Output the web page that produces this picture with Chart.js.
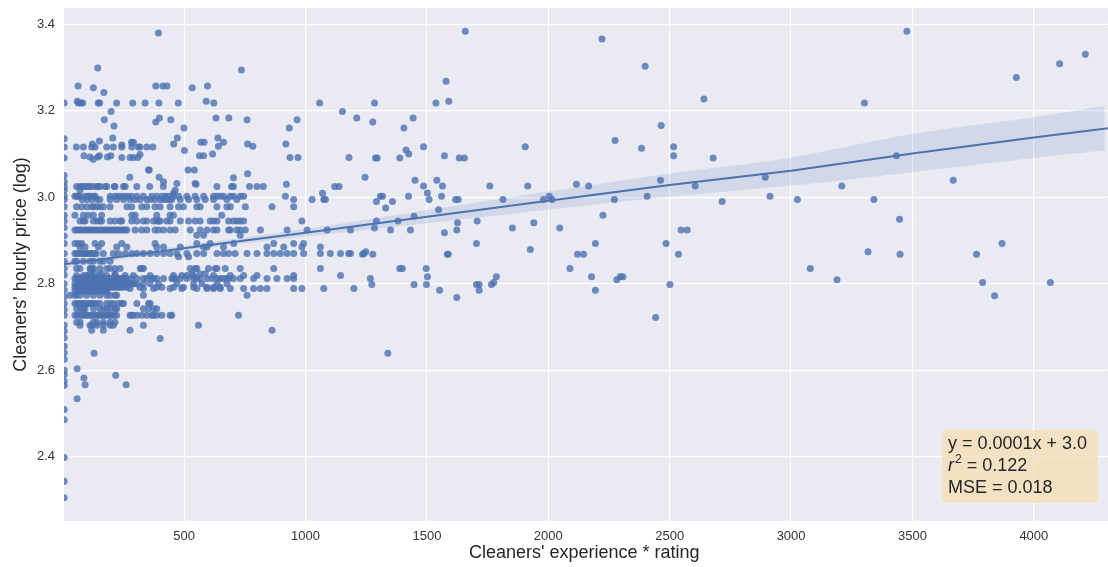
<!DOCTYPE html>
<html>
<head>
<meta charset="utf-8">
<script src="https://cdn.jsdelivr.net/npm/chart.js@4.4.1/dist/chart.umd.min.js"></script>
<style>
  html, body { margin: 0; padding: 0; background: #fff; overflow: hidden; }
  #wrap { width: 1108px; height: 567px; }
  canvas { display: block; }
</style>
</head>
<body>
<div id="wrap"><canvas id="regChart" width="1108" height="567"></canvas></div>
<script>
// Cleaners' experience * rating vs hourly price (log), seaborn-style regplot

// tick labels
var xTicks = [500, 1000, 1500, 2000, 2500, 3000, 3500, 4000];
var yTicks = [2.4, 2.6, 2.8, 3.0, 3.2, 3.4];

// fitted line and its confidence band
var fitX = [6, 500, 1000, 1500, 2000, 2500, 3000, 3500, 4000, 4312];
var fitY = [2.845, 2.882, 2.918, 2.955, 2.992, 3.028, 3.061, 3.101, 3.138, 3.160];
var bandUpper = [2.853, 2.888, 2.927, 2.970, 3.013, 3.055, 3.092, 3.146, 3.185, 3.213];
var bandLower = [2.837, 2.876, 2.909, 2.940, 2.971, 3.001, 3.027, 3.058, 3.091, 3.110];

// points sitting on the left edge (lowest experience value)
var edgeX = 6;
var edgeY = [3.218, 3.135, 3.116, 3.091, 3.050, 3.036, 3.025, 3.016, 3.002, 2.995, 2.978, 2.958,
  2.945, 2.930, 2.910, 2.893, 2.870, 2.852, 2.835, 2.820, 2.800, 2.785, 2.770, 2.754, 2.740,
  2.727, 2.704, 2.690, 2.675, 2.655, 2.640, 2.625, 2.600, 2.590, 2.575, 2.565, 2.509, 2.485,
  2.398, 2.343, 2.305];

// scatter, grouped by price level: [price, [experience values]]
var priceRows = [
  [3.384, [1658, 3477]],
  [3.380, [394]],
  [3.366, [2221]],
  [3.331, [4212]],
  [3.309, [4106]],
  [3.303, [2399]],
  [3.299, [144]],
  [3.294, [736]],
  [3.277, [3928]],
  [3.268, [1579]],
  [3.257, [63, 383, 412, 429, 596]],
  [3.253, [126, 533]],
  [3.242, [169]],
  [3.227, [2641]],
  [3.222, [60, 591, 1590]],
  [3.218, [64, 74, 82, 146, 152, 222, 288, 339, 396, 476, 622, 1058, 1284, 1537, 3302]],
  [3.198, [199, 1152]],
  [3.183, [398, 631, 684, 1211, 1443]],
  [3.179, [171, 445, 759, 965]],
  [3.174, [383, 1277]],
  [3.166, [2465]],
  [3.165, [211]],
  [3.160, [499, 933, 1405]],
  [3.137, [206, 472, 639]],
  [3.131, [2275]],
  [3.130, [151]],
  [3.127, [283, 291, 569, 582, 662]],
  [3.123, [122, 457, 761, 919]],
  [3.121, [243]],
  [3.118, [641, 783]],
  [3.117, [1486, 1905, 2516]],
  [3.116, [56, 85, 119, 133, 181, 208, 243, 284, 311, 318, 346, 371]],
  [3.113, [2384]],
  [3.109, [1414]],
  [3.108, [501]],
  [3.100, [617, 1425]],
  [3.099, [318]],
  [3.096, [87, 151, 198, 563, 580, 1572, 2516, 3434]],
  [3.093, [112, 144, 184]],
  [3.092, [243, 277, 291, 309, 936, 969, 1179]],
  [3.091, [1288, 1295, 1388, 1633, 1654, 2679]],
  [3.088, [126]],
  [3.063, [353, 356, 516, 542]],
  [3.054, [761]],
  [3.046, [276, 397, 1245, 2894]],
  [3.045, [703]],
  [3.039, [1451, 1541, 2462, 3668]],
  [3.036, [415]],
  [3.032, [470, 545]],
  [3.030, [549, 921, 2116]],
  [3.026, [1486, 1564, 1759, 1915, 2166, 2605, 3209]],
  [3.025, [57, 71, 78, 85, 94, 105, 112, 126, 140, 146, 153, 174, 181, 212, 215, 250, 257, 305,
    358, 414, 635, 695, 703, 769, 800, 826, 1120, 1138]],
  [3.016, [71, 463]],
  [3.010, [1502]],
  [3.009, [456, 1070]],
  [3.002, [50, 57, 64, 71, 92, 105, 112, 126, 133, 195, 215, 229, 243, 257, 270, 284, 305, 332,
    367, 387, 408, 422, 435, 456, 477, 511, 545, 580, 621, 635, 649, 662, 690, 703, 731, 745,
    917, 1308, 1317, 1424, 1560, 2004, 2407, 2913]],
  [2.995, [80, 99, 119, 140, 153, 195, 222, 250, 277, 298, 318, 346, 360, 380, 401, 415, 428,
    442, 449, 484, 518, 552, 587, 621, 676, 717, 951, 1027, 1075, 1082, 1509, 1618, 1629, 1813,
    1980, 2015, 2272, 3026, 3341]],
  [2.990, [1292, 1358, 2716]],
  [2.978, [57, 78, 99, 119, 126, 140, 153, 167, 195, 264, 284, 325, 346, 380, 401, 442, 477,
    497, 552, 566, 635, 676, 690, 752, 862, 951]],
  [2.975, [1330]],
  [2.971, [1548]],
  [2.958, [50, 85, 105, 126, 160, 284, 298, 387, 442, 456, 655, 2225]],
  [2.956, [1447]],
  [2.949, [3447]],
  [2.945, [71, 85, 92, 126, 140, 153, 160, 195, 215, 236, 243, 284, 305, 332, 346, 374, 387,
    394, 401, 428, 442, 484, 518, 545, 566, 607, 621, 635, 683, 703, 717, 731, 745, 985, 1292,
    1381, 1707]],
  [2.941, [1626, 1940]],
  [2.929, [1284, 1852, 2047]],
  [2.924, [50, 59, 68, 77, 86, 95, 104, 113, 122, 131, 140, 149, 158, 167, 176, 185, 194, 203,
    212, 221, 230, 239, 248, 257, 264, 298, 325, 346, 380, 394, 415, 442, 463, 525, 566, 594,
    621, 635, 683, 690, 717, 731, 752, 814, 924, 1006, 1089, 1185, 1350, 1432, 1623, 2547, 2572]],
  [2.918, [1572]],
  [2.912, [552, 580, 731]],
  [2.893, [50, 64, 78, 133, 160, 243, 380, 552, 607, 704, 869, 951, 992, 1704, 2194, 2485, 3869]],
  [2.885, [71, 92, 147, 222, 264, 387, 415, 484, 580, 594, 662, 841, 910, 985, 1061]],
  [2.879, [1926]],
  [2.874, [1248, 3317]],
  [2.870, [50, 58, 66, 74, 82, 90, 98, 106, 114, 122, 130, 138, 167, 208, 229, 257, 284, 305,
    332, 360, 387, 415, 442, 470, 511, 552, 580, 635, 662, 683, 710, 759, 800, 841, 869, 896,
    924, 951, 992, 1061, 1102, 1144, 1178, 1185, 1240]],
  [2.868, [1235, 1277, 1584, 1588, 2120, 2145, 2536, 3449, 3764]],
  [2.862, [477, 518]],
  [2.852, [50, 57, 85, 112, 126, 153, 167, 195]],
  [2.835, [57, 71, 112, 119, 126, 153, 181, 195, 215, 236, 319, 325, 332, 525, 545, 552, 600,
    628, 635, 669, 731, 869, 1061, 1388, 1399, 1497, 2089, 3079]],
  [2.823, [112, 133, 160, 215, 532, 566, 587]],
  [2.819, [57, 85, 98, 119, 153, 181, 215, 257, 291, 360, 456, 490, 511, 539, 621, 690, 745,
    800, 951, 1144]],
  [2.816, [1502, 1786, 2178, 2296, 2307]],
  [2.812, [50, 59, 68, 77, 86, 95, 104, 113, 122, 131, 140, 149, 158, 167, 176, 185, 194, 203,
    212, 221, 230, 239, 248, 257, 264, 284, 305, 332, 346, 367, 374, 387, 415, 449, 456, 463,
    484, 511, 539, 552, 566, 594, 614, 635, 649, 662, 676, 683, 703, 731, 786, 841, 882, 924,
    951, 1267]],
  [2.809, [2282, 3189]],
  [2.803, [1775, 3789, 4068]],
  [2.800, [50, 59, 68, 77, 86, 95, 104, 113, 122, 131, 140, 149, 158, 167, 176, 185, 194, 203,
    212, 221, 230, 239, 248, 257, 266, 275, 284, 293, 305, 332, 360, 394, 470, 539, 573, 635, 676]],
  [2.798, [1273, 1447, 1498, 1704, 1715, 1766, 2501]],
  [2.792, [50, 59, 68, 77, 86, 95, 104, 113, 122, 131, 140, 149, 158, 167, 176, 185, 194, 203,
    212, 221, 230, 239, 250, 264, 318, 387, 408, 456, 497, 539, 594, 621, 648]],
  [2.789, [277, 332, 374, 442, 490, 552, 594, 621, 649, 690, 745, 786, 814, 841, 951, 985, 1075, 1199]],
  [2.785, [1552, 1715, 2194]],
  [2.783, [50, 59, 68, 77, 86, 95, 104, 113, 122, 131, 140, 149, 158, 167, 176, 181]],
  [2.773, [30, 50, 57, 71, 98, 126, 153, 181, 195, 215, 222, 332, 759]],
  [2.772, [3838]],
  [2.768, [1623]],
  [2.754, [50, 58, 66, 74, 82, 90, 98, 106, 114, 122, 130, 140, 153, 181, 195, 208, 229, 243,
    250, 305, 353, 360]],
  [2.742, [57, 71, 85, 92, 126, 153, 167, 181, 195, 215, 222, 332, 353, 374, 387]],
  [2.727, [50, 59, 68, 77, 86, 95, 104, 113, 122, 131, 140, 149, 158, 167, 176, 185, 194, 203,
    212, 222, 277, 284, 291, 305, 325, 346, 367, 374, 387, 408, 442, 449, 724]],
  [2.722, [2442]],
  [2.711, [57, 71, 126, 140, 167, 195, 215]],
  [2.704, [71, 112, 119, 140, 167, 195, 208, 332, 559]],
  [2.692, [119, 167, 277, 862]],
  [2.673, [401]],
  [2.639, [129, 1339]],
  [2.603, [59]],
  [2.588, [218]],
  [2.582, [87]],
  [2.566, [92, 261]],
  [2.534, [59]]
];

// annotation text
var fitLabel = 'y = 0.0001x + 3.0';
var r2Label = '0.122';
var mseLabel = 'MSE = 0.018';

var scatterPts = edgeY.map(function(y) { return {x: edgeX, y: y}; });
priceRows.forEach(function(row) {
  row[1].forEach(function(x) { scatterPts.push({x: x, y: row[0]}); });
});

function pairs(xs, ys) {
  return xs.map(function(x, i) { return {x: x, y: ys[i]}; });
}

var blue = '#4C72B0';
var fontFam = "'Liberation Sans', Arial, sans-serif";
// chart.js keeps a few px free on the right; let the fit line/band run into it
var lineClip = { left: 0, top: 0, right: 6, bottom: 0 };

var bgPlugin = {
  id: 'plotBg',
  beforeDraw: function(chart) {
    var a = chart.chartArea, ctx = chart.ctx;
    ctx.save();
    ctx.fillStyle = '#EAEAF2';
    ctx.fillRect(a.left, a.top, chart.width - a.left, a.bottom - a.top);
    ctx.restore();
  },
  beforeDatasetsDraw: function(chart) {
    // carry the horizontal grid lines into that spare strip
    var a = chart.chartArea, ctx = chart.ctx, ys = chart.scales.y;
    ctx.save();
    ctx.strokeStyle = '#ffffff';
    ctx.lineWidth = 1.2;
    yTicks.forEach(function(v) {
      var py = ys.getPixelForValue(v);
      ctx.beginPath();
      ctx.moveTo(a.right - 1, py);
      ctx.lineTo(chart.width, py);
      ctx.stroke();
    });
    ctx.restore();
  }
};

var notePlugin = {
  id: 'fitNote',
  afterDatasetsDraw: function(chart) {
    var ctx = chart.ctx;
    var bx = 942, by = 430, bw = 156, bh = 73;
    ctx.save();
    ctx.fillStyle = 'rgba(245, 222, 179, 0.75)';
    ctx.beginPath();
    ctx.roundRect(bx, by, bw, bh, 5);
    ctx.fill();
    ctx.fillStyle = '#262626';
    ctx.textBaseline = 'alphabetic';
    ctx.font = '18px ' + fontFam;
    ctx.fillText(fitLabel, 948, 449);
    ctx.font = 'italic 18px ' + fontFam;
    ctx.fillText('r', 948, 471);
    var rw = ctx.measureText('r').width;
    ctx.font = '12px ' + fontFam;
    ctx.fillText('2', 948 + rw + 1, 463);
    var sw = ctx.measureText('2').width;
    ctx.font = '18px ' + fontFam;
    ctx.fillText(' = ' + r2Label, 948 + rw + 1 + sw, 471);
    ctx.fillText(mseLabel, 948, 493);
    ctx.restore();
  }
};

var ctx = document.getElementById('regChart').getContext('2d');
var regChart = new Chart(ctx, {
  type: 'scatter',
  data: {
    datasets: [
      {
        type: 'line',
        data: pairs(fitX, fitY),
        borderColor: blue,
        borderWidth: 2,
        pointRadius: 0,
        fill: false,
        tension: 0,
        clip: lineClip
      },
      {
        type: 'line',
        data: pairs(fitX, bandUpper),
        borderWidth: 0,
        borderColor: 'rgba(0,0,0,0)',
        pointRadius: 0,
        fill: false,
        tension: 0.4,
        clip: lineClip
      },
      {
        type: 'line',
        data: pairs(fitX, bandLower),
        borderWidth: 0,
        borderColor: 'rgba(0,0,0,0)',
        pointRadius: 0,
        fill: '-1',
        backgroundColor: 'rgba(76, 114, 176, 0.15)',
        tension: 0.4,
        clip: lineClip
      },
      {
        data: scatterPts,
        backgroundColor: 'rgba(76, 114, 176, 0.8)',
        borderWidth: 0,
        pointRadius: 3.5,
        pointHoverRadius: 3.5,
        clip: 0
      }
    ]
  },
  options: {
    responsive: false,
    animation: false,
    layout: { padding: { top: 8, right: 0, left: 0, bottom: 0 } },
    plugins: {
      legend: { display: false },
      tooltip: { enabled: false }
    },
    scales: {
      x: {
        type: 'linear',
        min: 5,
        max: 4291,
        afterBuildTicks: function(scale) {
          scale.ticks = xTicks.map(function(v) { return {value: v}; });
        },
        afterFit: function(scale) {
          scale.height = 46;
          scale.paddingLeft = 0;
          scale.paddingRight = 0;
        },
        grid: { color: '#ffffff', lineWidth: 1.2, drawTicks: false },
        border: { display: false },
        ticks: {
          color: '#333333',
          font: { family: fontFam, size: 13 },
          padding: 8,
          maxRotation: 0,
          callback: function(v) { return String(v); }
        },
        title: {
          display: true,
          text: "Cleaners' experience * rating",
          color: '#262626',
          font: { family: fontFam, size: 18 },
          padding: { top: 2, bottom: 3 }
        }
      },
      y: {
        type: 'linear',
        min: 2.251,
        max: 3.4377,
        afterBuildTicks: function(scale) {
          scale.ticks = yTicks.map(function(v) { return {value: v}; });
        },
        afterFit: function(scale) {
          scale.width = 64;
          scale.paddingTop = 0;
          scale.paddingBottom = 0;
        },
        grid: { color: '#ffffff', lineWidth: 1.2, drawTicks: false },
        border: { display: false },
        ticks: {
          color: '#333333',
          font: { family: fontFam, size: 13 },
          padding: 9,
          callback: function(v) { return v.toFixed(1); }
        },
        title: {
          display: true,
          text: "Cleaners' hourly price (log)",
          color: '#262626',
          font: { family: fontFam, size: 18 },
          padding: { top: 10, bottom: 4 }
        }
      }
    }
  },
  plugins: [bgPlugin, notePlugin]
});
</script>
</body>
</html>
